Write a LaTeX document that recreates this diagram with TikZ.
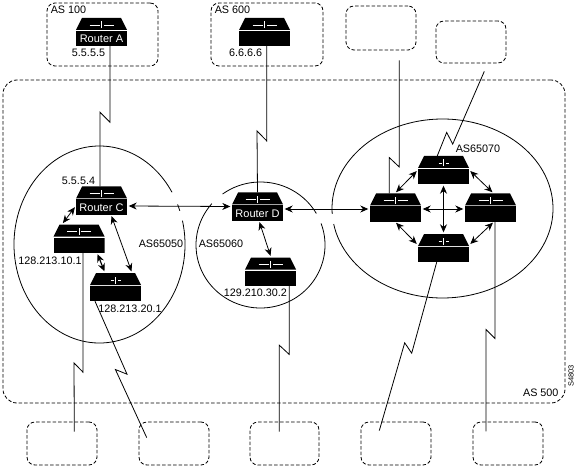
\documentclass[tikz,border=0pt]{standalone}
\usepackage{fontspec}
\setmainfont{Liberation Sans}
\usetikzlibrary{arrows.meta,positioning}
\tikzset{
  routerbox/.style={minimum width=51pt,minimum height=28pt,inner sep=0pt,
    path picture={
      \fill (path picture bounding box.south west) rectangle ++(51,-15);
      \fill (path picture bounding box.south west) ++(0,-16) -- ++(51,0) -- ++(-6,-12) -- ++(-39,0) -- cycle;
      \draw[white,line width=0.8pt] (path picture bounding box.center) ++(-#1,-7) -- ++({#1-2},0);
      \draw[white,line width=0.8pt] (path picture bounding box.center) ++(#1,-7) -- ++({2-#1},0);
      \draw[white,line width=1pt] (path picture bounding box.center) ++(0,-3.5) -- ++(0,-7);
    }},
  routertext/.style={white,font=\fontsize{11}{12}\selectfont,yshift=-7pt,inner sep=0pt},
  textlabel/.style={font=\fontsize{10.8}{12}\selectfont,inner sep=0pt},
  dashbox/.style={draw,dashed,dash pattern=on 3.5pt off 2pt,line width=0.8pt,rounded corners=8pt,minimum width=#1},
  peerlink/.style={{Stealth[length=8pt,width=7pt]}-{Stealth[length=8pt,width=7pt]},line width=0.8pt,shorten <=1.5pt,shorten >=1.5pt},
  seriallink/.style={line width=0.8pt},
  asring/.style={line width=0.8pt}
}
\begin{document}
\begin{tikzpicture}[x=1pt,y=-1pt]
  \useasboundingbox (0,0) rectangle (576,468);
  \fill[white] (0,0) rectangle (576,468);
  % dashed clouds
  \foreach \nm/\cx/\cy/\w/\h in {as100/102.5/34.5/111/63,as600/267/34.5/112/63,top3/381/28/70/44,top4/471/42/70/42,
      bx1/62/443.5/70/43,bx2/174/443.5/70/43,bx3/284.5/443.5/69/43,bx4/396/443.5/70/43,bx5/508/443.5/70/43} {
    \node[dashbox=\w pt,minimum height=\h pt] (\nm) at (\cx,\cy) {};
  }
  \node[dashbox=562pt,minimum height=323pt,rounded corners=14pt] (as500) at (284,241.5) {};
  % rings
  \coordinate (c50) at (99.5,244.5);
  \coordinate (c60) at (260.5,245);
  \coordinate (c70) at (442.5,208.5);
  \draw[asring] (c50) ++(-14:85.5 and 98.5) arc[start angle=-14,end angle=328,x radius=85.5,y radius=98.5];
  \draw[asring] (c50) ++(-24:85.5 and 98.5) arc[start angle=-24,end angle=-20,x radius=85.5,y radius=98.5];
  \draw[asring] (c60) ++(-126:64.5 and 63) arc[start angle=-126,end angle=-30,x radius=64.5,y radius=63];
  \draw[asring] (c60) ++(-20:64.5 and 63) arc[start angle=-20,end angle=221,x radius=64.5,y radius=63];
  \draw[asring] (c70) ++(-190:110.5 and 89.5) arc[start angle=-190,end angle=-543.5,x radius=110.5,y radius=89.5];
  % routers
  \node[routerbox=12,label={[routertext]center:Router A}] (ra) at (101.5,32) {};
  \node[routerbox=12] (rb) at (264.5,32) {};
  \node[routerbox=12,label={[routertext]center:Router C}] (rc) at (101.5,200.5) {};
  \node[routerbox=12,label={[routertext]center:Router D}] (rd) at (257.5,206.5) {};
  \node[routerbox=12] (re) at (79,238.5) {};
  \node[routerbox=5] (rf) at (115.5,287) {};
  \node[routerbox=12] (rg) at (270.5,271.5) {};
  \node[routerbox=5] (rh) at (443.5,170) {};
  \node[routerbox=12] (ri) at (395.5,207.5) {};
  \node[routerbox=12] (rj) at (490.5,207.5) {};
  \node[routerbox=5] (rk) at (443.5,248) {};
  % serial lines
  \draw[seriallink] ([xshift=8.5]ra.south) -- ++(0,76) -- ++(-10,-10) -- ([xshift=-1.5]rc.north);
  \draw[seriallink] ([xshift=2.2]rb.south) -- ++(0,94.7) -- ++(-9.7,-10) -- (rd.north);
  \draw[seriallink] ([xshift=4]re.south) -- ++(0,119.5) -- ++(-9,-9.3) -- ([xshift=12.3,yshift=-10]bx1.north);
  \draw[seriallink] ([xshift=-20.5]rf.south) -- ++(32,73) -- ++(-11.6,-4.7) -- ([xshift=-27.3,yshift=-16]bx2.north);
  \draw[seriallink] ([xshift=18.8]rg.south) -- ++(0,68.8) -- ++(-10,-9.3) -- ([xshift=-5.2,yshift=-10]bx3.north);
  \draw[seriallink] ([xshift=-6.8]rk.south) -- ++(-25,91) -- ++(-7,-10.4) -- ([xshift=-16.7,yshift=-9]bx4.north);
  \draw[seriallink] ([xshift=4.5]rj.south) -- ++(0,116.8) -- ++(-9,-9) -- ([xshift=-22,yshift=-9.7]bx5.north);
  \draw[seriallink] ([xshift=-6.2]ri.north) -- ++(0,-35.7) -- ++(10,9.4) -- ([xshift=18.3,yshift=-10]top3.south);
  \draw[seriallink] ([xshift=-6.2]rh.north) -- ++(9.4,-23.4) -- ++(6,11.7) -- ([xshift=13.3,yshift=-8]top4.south);
  % peer arrows
  \draw[peerlink] ([yshift=-5.5]rc.east) -- (rd.west);
  \draw[peerlink] ([yshift=-5.5]rc.west) -- ([xshift=-17]re.north);
  \draw[peerlink] ([xshift=9.5]rc.south) -- ([xshift=16.5]rf.north);
  \draw[peerlink,line width=1.2pt] ([xshift=18]re.south) -- ([xshift=-10.5]rf.north);
  \draw[peerlink] ([xshift=1.5]rd.south) -- ([xshift=0.5]rg.north);
  \draw[peerlink] ([yshift=-2.5]rd.east) -- ([yshift=-1.5]ri.west);
  \draw[peerlink] (rh.west) -- ([xshift=-0.5]ri.north);
  \draw[peerlink] (rh.east) -- ([xshift=3]rj.north);
  \draw[peerlink] (rh.south) -- (rk.north);
  \draw[peerlink] ([yshift=-1.5]ri.east) -- ([yshift=-1.5]rj.west);
  \draw[peerlink] ([xshift=-0.5]ri.south) -- ([yshift=3]rk.west);
  \draw[peerlink] ([xshift=3.5]rj.south) -- ([yshift=3]rk.east);
  % labels
  \node[textlabel] (l100) at (68.5,10) {AS 100};
  \node[textlabel] (l600) at (232.5,10) {AS 600};
  \node[textlabel] (l500) at (540.8,392.3) {AS 500};
  \node[textlabel] (ipa) at (88.5,52.5) {5.5.5.5};
  \node[textlabel] (ipb) at (245.7,52.5) {6.6.6.6};
  \node[textlabel] (ipc) at (78.5,181) {5.5.5.4};
  \node[textlabel] (ipe) at (50,260.7) {128.213.10.1};
  \node[textlabel] (ipf) at (130,308.3) {128.213.20.1};
  \node[textlabel] (ipg) at (255.3,292.3) {129.210.30.2};
  \node[textlabel] (l50) at (161,244) {AS65050};
  \node[textlabel] (l60) at (221,244) {AS65060};
  \node[textlabel] (l70) at (478,148.3) {AS65070};
  \node[font=\fontsize{7.5}{9}\selectfont,rotate=90,inner sep=0pt] (tag) at (571,376) {S4803};
\end{tikzpicture}
\end{document}
